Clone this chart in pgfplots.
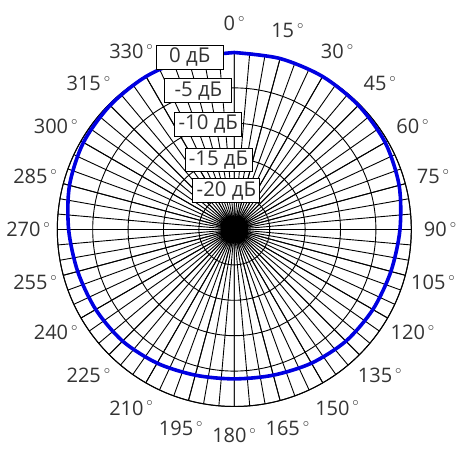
\documentclass[border=0pt]{standalone}
\usepackage{pgfplots}
\pgfplotsset{compat=1.18}
\usepackage{pgfplotstable}
\usepgfplotslibrary{polar}
\usepackage{fontspec}
\setmainfont{Open Sans}
\definecolor{patblue}{RGB}{0,0,225}
\tikzset{dblbl/.style={draw=black, line width=0.45pt, fill=white,
    minimum width=33.5pt, minimum height=11.8pt, inner sep=0.8pt,
    text=black!80, font=\fontsize{10.2}{11}\selectfont}}

% compass angle (0 at top, clockwise) and level in dB
\pgfplotstableread{
deg db
0 0
15 0
30 -0.05
45 -0.2
60 -0.4
75 -0.9
90 -1.6
105 -2.1
120 -2.4
135 -2.7
150 -3.2
165 -3.7
180 -3.9
195 -3.7
210 -3.2
225 -2.7
240 -2.4
255 -2.1
270 -1.6
285 -0.9
300 -0.4
315 -0.2
330 -0.05
345 0
360 0
}\radpattern

\begin{document}
\begin{tikzpicture}
\begin{pgfinterruptboundingbox}
\begin{polaraxis}[
    scale only axis, clip=false,
    width=177pt, height=177pt,
    xmin=0, xmax=360, ymin=0, ymax=25,
    % pgf angles; 105 (= 345 compass) carries no label
    xtick={0,15,30,45,60,75,90,120,135,150,165,180,195,210,225,240,255,270,285,300,315,330,345},
    minor xtick={0,5,...,355},
    ytick={5,10,15,20,25},
    yticklabels={},
    grid=both,
    major grid style={black, line width=0.45pt},
    minor grid style={black, line width=0.45pt},
    axis line style={black, line width=0.5pt},
    major tick length=0pt, minor tick length=0pt,
    xticklabel={\pgfmathtruncatemacro\c{mod(450-\tick,360)}\c\hspace{1.2pt}\raisebox{4.6pt}{$\scriptscriptstyle\circ$}},
    xticklabel style={anchor=center, text=black!80,
        font=\fontsize{10}{12}\selectfont,
        xshift={14.5pt*cos(\tick)}, yshift={14.5pt*sin(\tick)}},
]
\coordinate (c) at (axis cs:0,0);
\addplot[patblue, line width=1.8pt, smooth] table[x expr={90-\thisrow{deg}}, y expr={\thisrow{db}+25}] {\radpattern};
\node[dblbl] at (axis cs:104.5,25.1) {0 дБ};
\node[dblbl] at (axis cs:104.5,20.25) {-5 дБ};
\node[dblbl] at (axis cs:103.9,15.3) {-10 дБ};
\node[dblbl] at (axis cs:102.8,10.1) {-15 дБ};
\node[dblbl] at (axis cs:101.5,5.6) {-20 дБ};
\end{polaraxis}
\end{pgfinterruptboundingbox}
\useasboundingbox (c) ++(-117.15pt,114.75pt) rectangle ++(230pt,-230pt);
\end{tikzpicture}
\end{document}
